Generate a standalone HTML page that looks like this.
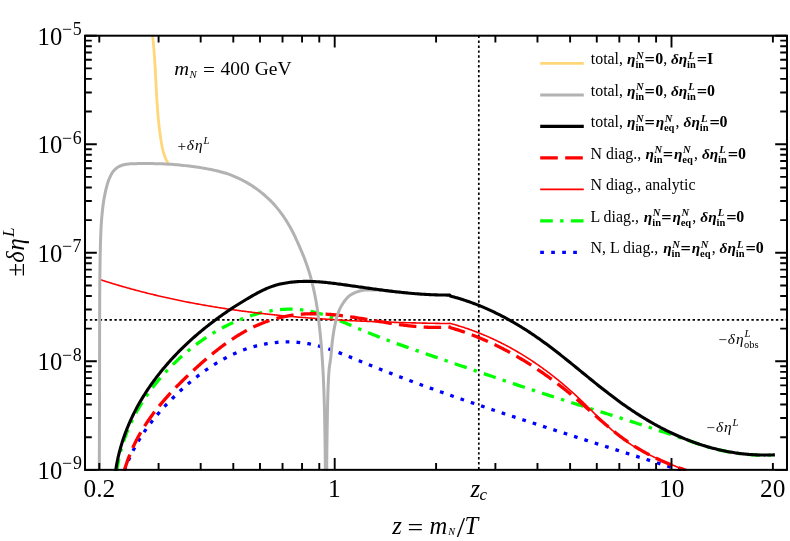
<!DOCTYPE html>
<html><head><meta charset="utf-8"><title>chart</title>
<style>html,body{margin:0;padding:0;background:#fff}body{width:790px;height:541px;overflow:hidden}svg{will-change:transform}</style>
</head><body>
<svg width="790" height="541" viewBox="0 0 790 541" style="display:block;font-family:'Liberation Serif',serif" fill="#000">
<rect width="790" height="541" fill="#fff"/>
<defs><clipPath id="cp"><rect x="85.0" y="35.7" width="702.0" height="435.35"/></clipPath></defs>
<g clip-path="url(#cp)" fill="none" stroke-linejoin="round">
<path d="M85.0 319.8H787.0" stroke="#000" stroke-width="1.7" stroke-dasharray="2.4 2.5"/>
<path d="M478.8 35.7V469.85" stroke="#000" stroke-width="1.7" stroke-dasharray="2.4 2.5"/>
<path d="M124.46 470.79L125.18 468.75L125.93 466.73L126.70 464.73L127.50 462.74L128.32 460.77L129.17 458.82L130.04 456.88L130.94 454.96L131.85 453.06L132.79 451.17L133.76 449.30L134.74 447.44L135.75 445.59L136.78 443.77L137.83 441.95L138.90 440.15L139.99 438.37L141.11 436.59L142.24 434.83L143.40 433.09L144.57 431.36L145.77 429.64L146.98 427.93L148.21 426.23L149.46 424.55L150.73 422.88L152.02 421.22L153.33 419.57L154.65 417.93L156.00 416.30L157.35 414.68L158.73 413.08L160.12 411.48L161.53 409.89L162.96 408.31L164.40 406.75L165.85 405.19L167.33 403.63L168.81 402.09L170.31 400.56L171.83 399.03L173.36 397.51L174.90 396.00L176.46 394.50L178.03 393.00L179.61 391.52L181.21 390.04L182.82 388.58L184.45 387.12L186.08 385.68L187.73 384.25L189.40 382.83L191.07 381.43L192.76 380.04L194.46 378.67L196.17 377.31L197.90 375.96L199.63 374.64L201.38 373.33L203.14 372.04L204.91 370.77L206.70 369.52L208.49 368.28L210.30 367.07L212.11 365.88L213.94 364.71L215.78 363.57L217.63 362.44L219.49 361.34L221.36 360.27L223.24 359.22L225.13 358.20L227.03 357.20L228.94 356.23L230.86 355.29L232.79 354.37L234.73 353.49L236.68 352.63L238.64 351.80L240.60 351.01L242.58 350.24L244.57 349.51L246.56 348.81L248.56 348.15L250.57 347.51L252.59 346.91L254.62 346.35L256.65 345.81L258.69 345.31L260.73 344.85L262.78 344.42L264.84 344.02L266.90 343.65L268.96 343.32L271.03 343.03L273.10 342.77L275.17 342.54L277.25 342.35L279.33 342.19L281.41 342.07L283.49 341.98L285.57 341.93L287.65 341.91L289.73 341.93L291.82 341.99L293.90 342.08L295.98 342.21L298.06 342.37L300.13 342.57L302.20 342.81L304.28 343.08L306.34 343.39L308.41 343.74L310.47 344.12L312.52 344.54L314.57 345.00L316.62 345.48L318.66 346.01L320.70 346.56L322.73 347.14L324.76 347.75L326.79 348.38L328.81 349.04L330.83 349.72L332.85 350.43L334.87 351.15L336.88 351.89L338.89 352.64L340.90 353.41L342.91 354.19L344.92 354.98L346.92 355.78L348.92 356.59L350.93 357.40L352.93 358.22L354.93 359.04L356.93 359.86L358.93 360.68L360.93 361.50L362.93 362.32L364.92 363.13L366.92 363.94L368.92 364.75L370.92 365.55L372.92 366.35L374.92 367.15L376.92 367.94L378.92 368.73L380.92 369.52L382.92 370.30L384.92 371.08L386.92 371.86L388.92 372.64L390.92 373.41L392.92 374.18L394.92 374.95L396.92 375.72L398.92 376.48L400.92 377.24L402.92 378.00L404.92 378.75L406.92 379.50L408.92 380.25L410.92 381.00L412.92 381.75L414.93 382.49L416.93 383.23L418.93 383.97L420.93 384.70L422.93 385.44L424.94 386.17L426.94 386.90L428.94 387.63L430.94 388.35L432.95 389.07L434.95 389.79L436.95 390.51L438.96 391.23L440.96 391.94L442.97 392.66L444.97 393.37L446.98 394.08L448.98 394.78L450.99 395.49L453.00 396.19L455.00 396.90L457.01 397.60L459.02 398.30L461.02 398.99L463.03 399.69L465.04 400.38L467.05 401.07L469.06 401.76L471.07 402.45L473.08 403.14L475.09 403.83L477.10 404.51L479.11 405.20L481.12 405.88L483.14 406.56L485.15 407.24L487.16 407.92L489.17 408.60L491.19 409.28L493.20 409.95L495.22 410.63L497.23 411.30L499.25 411.97L501.27 412.64L503.28 413.31L505.30 413.98L507.32 414.65L509.34 415.32L511.36 415.99L513.38 416.65L515.40 417.32L517.42 417.98L519.44 418.65L521.46 419.31L523.48 419.98L525.51 420.64L527.53 421.30L529.56 421.96L531.58 422.62L533.61 423.28L535.63 423.94L537.66 424.60L539.69 425.26L541.72 425.92L543.75 426.58L545.78 427.24L547.81 427.90L549.84 428.55L551.87 429.21L553.90 429.87L555.93 430.52L557.96 431.18L560.00 431.84L562.03 432.49L564.06 433.15L566.10 433.80L568.13 434.46L570.17 435.11L572.20 435.76L574.24 436.42L576.27 437.07L578.31 437.72L580.34 438.38L582.38 439.03L584.42 439.68L586.45 440.33L588.49 440.99L590.53 441.64L592.56 442.29L594.60 442.94L596.64 443.59L598.67 444.24L600.71 444.89L602.75 445.54L604.78 446.19L606.82 446.84L608.85 447.49L610.89 448.14L612.93 448.79L614.96 449.44L617.00 450.08L619.04 450.73L621.07 451.38L623.11 452.03L625.14 452.68L627.18 453.32L629.21 453.97L631.24 454.62L633.28 455.27L635.31 455.91L637.34 456.56L639.38 457.21L641.41 457.85L643.44 458.50L645.47 459.15L647.50 459.79L649.53 460.44L651.56 461.08L653.59 461.73L655.62 462.38L657.65 463.02L659.68 463.67L661.70 464.31L663.73 464.96L665.75 465.60L667.78 466.25L669.80 466.89L671.83 467.54L673.85 468.18L675.87 468.83L677.89 469.47L679.91 470.12L681.93 470.76L683.95 471.41" stroke="#00F" stroke-width="3.3" stroke-dasharray="3.7 7.17"/>
<path d="M116.63 471.32L116.99 468.93L117.37 466.57L117.79 464.22L118.23 461.89L118.71 459.57L119.21 457.27L119.74 454.99L120.31 452.72L120.90 450.47L121.52 448.23L122.17 446.01L122.85 443.80L123.55 441.61L124.28 439.44L125.04 437.28L125.83 435.14L126.64 433.01L127.48 430.89L128.35 428.79L129.24 426.71L130.16 424.64L131.11 422.58L132.08 420.54L133.07 418.52L134.09 416.51L135.14 414.51L136.21 412.53L137.30 410.56L138.42 408.61L139.56 406.67L140.72 404.74L141.91 402.83L143.12 400.93L144.35 399.05L145.60 397.18L146.88 395.32L148.18 393.48L149.50 391.65L150.84 389.83L152.21 388.03L153.59 386.24L155.00 384.47L156.42 382.70L157.87 380.95L159.33 379.22L160.82 377.49L162.32 375.78L163.85 374.08L165.39 372.40L166.95 370.72L168.53 369.06L170.13 367.42L171.75 365.78L173.38 364.16L175.03 362.56L176.70 360.97L178.39 359.39L180.09 357.83L181.81 356.29L183.55 354.76L185.30 353.25L187.07 351.76L188.86 350.28L190.66 348.83L192.48 347.39L194.31 345.97L196.16 344.57L198.02 343.19L199.89 341.83L201.79 340.49L203.69 339.17L205.61 337.87L207.54 336.60L209.49 335.35L211.45 334.12L213.42 332.91L215.41 331.73L217.41 330.57L219.42 329.43L221.45 328.32L223.48 327.24L225.53 326.18L227.59 325.15L229.66 324.14L231.75 323.16L233.84 322.21L235.94 321.29L238.06 320.39L240.19 319.53L242.32 318.69L244.47 317.88L246.62 317.10L248.79 316.36L250.96 315.64L253.14 314.96L255.33 314.32L257.52 313.70L259.72 313.13L261.93 312.59L264.14 312.08L266.35 311.61L268.57 311.18L270.79 310.79L273.02 310.44L275.25 310.13L277.48 309.87L279.71 309.64L281.94 309.46L284.17 309.32L286.41 309.22L288.64 309.17L290.87 309.17L293.10 309.21L295.33 309.30L297.55 309.44L299.77 309.63L301.99 309.86L304.20 310.15L306.41 310.49L308.62 310.88L310.81 311.32L313.01 311.81L315.20 312.34L317.38 312.91L319.56 313.52L321.74 314.17L323.91 314.86L326.08 315.57L328.25 316.32L330.41 317.09L332.57 317.89L334.73 318.71L336.88 319.55L339.04 320.41L341.19 321.29L343.34 322.17L345.48 323.07L347.63 323.97L349.77 324.88L351.91 325.80L354.06 326.71L356.20 327.62L358.34 328.53L360.48 329.43L362.62 330.32L364.76 331.21L366.90 332.08L369.04 332.95L371.18 333.81L373.32 334.66L375.46 335.50L377.60 336.34L379.74 337.17L381.88 337.99L384.03 338.80L386.17 339.61L388.31 340.42L390.45 341.22L392.59 342.01L394.73 342.80L396.88 343.58L399.02 344.36L401.16 345.13L403.30 345.90L405.45 346.66L407.59 347.42L409.74 348.18L411.88 348.93L414.03 349.69L416.17 350.43L418.32 351.18L420.47 351.92L422.61 352.67L424.76 353.41L426.91 354.14L429.06 354.88L431.21 355.62L433.36 356.35L435.51 357.09L437.66 357.82L439.81 358.56L441.97 359.29L444.12 360.03L446.27 360.77L448.43 361.50L450.59 362.24L452.74 362.98L454.90 363.72L457.06 364.46L459.22 365.20L461.38 365.94L463.54 366.68L465.70 367.42L467.86 368.16L470.02 368.90L472.19 369.64L474.35 370.38L476.51 371.12L478.68 371.87L480.84 372.61L483.01 373.35L485.18 374.09L487.34 374.83L489.51 375.56L491.68 376.30L493.85 377.04L496.02 377.78L498.19 378.51L500.36 379.25L502.53 379.99L504.70 380.72L506.87 381.45L509.04 382.18L511.21 382.91L513.39 383.64L515.56 384.37L517.73 385.10L519.91 385.82L522.08 386.55L524.26 387.27L526.43 387.99L528.61 388.71L530.78 389.43L532.96 390.14L535.13 390.86L537.31 391.57L539.49 392.28L541.66 392.99L543.84 393.70L546.02 394.40L548.19 395.11L550.37 395.81L552.55 396.51L554.73 397.21L556.91 397.91L559.08 398.60L561.26 399.30L563.44 400.00L565.62 400.69L567.80 401.38L569.98 402.07L572.16 402.77L574.33 403.46L576.51 404.15L578.69 404.84L580.87 405.53L583.05 406.22L585.23 406.90L587.41 407.59L589.59 408.28L591.77 408.97L593.95 409.66L596.12 410.34L598.30 411.03L600.48 411.72L602.66 412.41L604.84 413.09L607.02 413.78L609.20 414.47L611.37 415.16L613.55 415.85L615.73 416.54L617.91 417.23L620.08 417.93L622.26 418.62L624.44 419.31L626.61 420.01L628.79 420.70L630.97 421.40L633.14 422.10L635.32 422.80L637.49 423.50L639.67 424.20L641.84 424.90L644.02 425.61L646.19 426.31L648.36 427.02L650.54 427.73L652.71 428.44L654.88 429.16L657.05 429.87L659.22 430.59L661.39 431.31L663.56 432.03L665.73 432.75L667.90 433.48L670.07 434.21L672.24 434.94L674.41 435.67L676.58 436.40L678.74 437.14L680.91 437.88L683.08 438.63L685.24 439.37L687.41 440.12L689.57 440.87L691.73 441.63L693.90 442.39L696.40 443.28L697.56 443.68L698.72 444.07L699.88 444.46L701.04 444.84L702.21 445.21L703.37 445.58L704.54 445.94L705.72 446.30L706.89 446.65L708.07 446.99L709.25 447.33L710.43 447.66L711.61 447.98L712.80 448.30L713.98 448.61L715.17 448.91L716.37 449.21L717.56 449.50L718.76 449.78L719.96 450.06L721.16 450.33L722.36 450.59L723.56 450.85L724.77 451.09L725.98 451.34L727.19 451.57L728.41 451.80L729.63 452.02L730.84 452.24L732.07 452.44L733.29 452.64L734.51 452.83L735.74 453.02L736.97 453.20L738.20 453.37L739.44 453.53L740.67 453.69L741.91 453.83L743.15 453.98L744.40 454.11L745.64 454.23L746.89 454.35L748.14 454.46L749.39 454.56L750.65 454.66L751.90 454.75L753.16 454.83L754.42 454.90L755.69 454.96L756.95 455.01L758.22 455.06L759.49 455.10L760.76 455.13L762.04 455.16L763.31 455.17L764.59 455.18L765.87 455.17L767.16 455.16L768.44 455.15L769.73 455.12L771.02 455.08L772.31 455.04L773.61 454.99L774.90 454.93" stroke="#0F0" stroke-width="3.3" stroke-dasharray="12.6 7.35 3.4 7.35"/>
<path d="M99.28 279.34L100.42 279.72L101.55 280.08L102.69 280.45L103.83 280.81L104.97 281.18L106.11 281.54L107.24 281.89L108.38 282.25L109.52 282.60L110.66 282.96L111.80 283.31L112.95 283.65L114.09 284.00L115.23 284.34L116.37 284.68L117.51 285.02L118.66 285.36L119.80 285.70L120.94 286.03L122.09 286.36L123.23 286.69L124.38 287.02L125.52 287.34L126.67 287.67L127.81 287.99L128.96 288.31L130.10 288.63L131.25 288.94L132.40 289.25L133.55 289.57L134.69 289.88L135.84 290.18L136.99 290.49L138.14 290.79L139.29 291.10L140.44 291.40L141.59 291.69L142.74 291.99L143.89 292.29L145.04 292.58L146.19 292.87L147.35 293.16L148.50 293.44L149.65 293.73L150.80 294.01L151.96 294.29L153.11 294.57L154.27 294.85L155.42 295.13L156.57 295.40L157.73 295.67L158.88 295.94L160.04 296.21L161.20 296.48L162.35 296.75L163.51 297.01L164.67 297.27L165.82 297.53L166.98 297.79L168.14 298.04L169.30 298.30L170.45 298.55L171.61 298.80L172.77 299.05L173.93 299.30L175.09 299.55L176.25 299.79L177.41 300.03L178.57 300.27L179.73 300.51L180.89 300.75L182.05 300.99L183.22 301.22L184.38 301.45L185.54 301.68L186.70 301.91L187.87 302.14L189.03 302.37L190.19 302.59L191.36 302.81L192.52 303.03L193.68 303.25L194.85 303.47L196.01 303.69L197.18 303.90L198.34 304.12L199.51 304.33L200.68 304.54L201.84 304.74L203.01 304.95L204.17 305.16L205.34 305.36L206.51 305.56L207.68 305.76L208.84 305.96L210.01 306.16L211.18 306.36L212.35 306.55L213.52 306.74L214.68 306.93L215.85 307.12L217.02 307.31L218.19 307.50L219.36 307.68L220.53 307.87L221.70 308.05L222.87 308.23L224.04 308.41L225.21 308.59L226.39 308.77L227.56 308.94L228.73 309.12L229.90 309.29L231.07 309.46L232.24 309.63L233.42 309.80L234.59 309.96L235.76 310.13L236.94 310.29L238.11 310.46L239.28 310.62L240.46 310.78L241.63 310.94L242.80 311.09L243.98 311.25L245.15 311.40L246.33 311.56L247.50 311.71L248.68 311.86L249.85 312.01L251.03 312.16L252.20 312.30L253.38 312.45L254.56 312.59L255.73 312.74L256.91 312.88L258.09 313.02L259.26 313.16L260.44 313.30L261.62 313.43L262.79 313.57L263.97 313.70L265.15 313.83L266.33 313.97L267.50 314.10L268.68 314.23L269.86 314.35L271.04 314.48L272.22 314.61L273.40 314.73L274.58 314.85L275.75 314.98L276.93 315.10L278.11 315.22L279.29 315.33L280.47 315.45L281.65 315.57L282.83 315.68L284.01 315.80L285.19 315.91L286.37 316.02L287.55 316.13L288.73 316.24L289.91 316.35L291.09 316.46L292.28 316.57L293.46 316.67L294.64 316.77L295.82 316.88L297.00 316.98L298.18 317.08L299.36 317.18L300.55 317.28L301.73 317.38L302.91 317.47L304.09 317.57L305.27 317.66L306.46 317.76L307.64 317.85L308.82 317.94L310.00 318.03L311.19 318.12L312.37 318.21L313.55 318.30L314.74 318.39L315.92 318.47L317.10 318.56L318.29 318.64L319.47 318.73L320.65 318.81L321.84 318.89L323.02 318.97L324.20 319.05L325.39 319.13L326.57 319.21L327.76 319.28L328.94 319.36L330.12 319.43L331.31 319.51L332.49 319.58L333.68 319.65L334.86 319.72L336.05 319.79L337.23 319.86L338.42 319.93L339.60 320.00L340.78 320.07L341.97 320.14L343.15 320.20L344.34 320.27L345.52 320.33L346.71 320.39L347.89 320.46L349.08 320.52L350.26 320.58L351.45 320.64L352.63 320.70L353.82 320.76L355.01 320.81L356.19 320.87L357.38 320.93L358.56 320.98L359.75 321.04L360.93 321.09L362.12 321.15L363.30 321.20L364.49 321.25L365.67 321.30L366.86 321.35L368.05 321.40L369.23 321.45L370.42 321.50L371.60 321.55L372.79 321.60L373.97 321.64L375.16 321.69L376.34 321.74L377.53 321.78L378.72 321.83L379.90 321.87L381.09 321.91L382.27 321.95L383.46 322.00L384.64 322.04L385.83 322.08L387.02 322.12L388.20 322.16L389.39 322.20L390.57 322.24L391.76 322.27L392.94 322.31L394.13 322.35L395.31 322.38L396.50 322.42L397.69 322.45L398.87 322.49L400.06 322.52L401.24 322.56L402.43 322.59L403.61 322.62L404.80 322.65L405.98 322.69L407.17 322.72L408.35 322.75L409.54 322.78L410.72 322.81L411.91 322.84L413.09 322.87L414.28 322.90L415.46 322.92L416.65 322.95L417.83 322.98L419.02 323.00L420.20 323.03L421.39 323.06L422.57 323.08L423.75 323.11L424.94 323.13L426.12 323.16L427.31 323.18L428.49 323.21L429.68 323.23L430.86 323.25L432.04 323.27L433.23 323.30L434.41 323.32L435.60 323.34L436.78 323.36L437.96 323.38L439.15 323.40L440.33 323.43L441.51 323.45L442.70 323.47L443.88 323.49L445.06 323.50L446.24 323.52L447.43 323.54L448.61 323.56L449.80 323.20L450.56 323.52L451.48 323.77L452.40 324.02L453.32 324.28L454.24 324.54L455.16 324.80L456.07 325.07L456.99 325.34L457.90 325.61L458.81 325.89L459.72 326.16L460.63 326.45L461.54 326.73L462.44 327.02L463.35 327.31L464.25 327.61L465.15 327.91L466.05 328.21L466.95 328.51L467.85 328.82L468.74 329.13L469.64 329.45L470.53 329.76L471.42 330.08L472.31 330.41L473.20 330.73L474.09 331.06L474.97 331.40L475.86 331.73L476.74 332.07L477.62 332.41L478.50 332.76L479.38 333.11L480.26 333.46L481.13 333.81L482.01 334.17L482.88 334.53L483.75 334.89L484.62 335.26L485.49 335.63L486.36 336.00L487.22 336.37L488.09 336.75L488.95 337.13L489.81 337.52L490.67 337.90L491.53 338.29L492.39 338.68L493.24 339.08L494.10 339.48L494.95 339.88L495.80 340.28L496.65 340.69L497.50 341.10L498.34 341.51L499.19 341.92L500.03 342.34L500.87 342.76L501.72 343.19L502.55 343.61L503.39 344.04L504.23 344.47L505.06 344.91L505.90 345.34L506.73 345.78L507.56 346.22L508.39 346.67L509.22 347.12L510.04 347.57L510.87 348.02L511.69 348.48L512.51 348.93L513.33 349.39L514.15 349.86L514.97 350.32L515.78 350.79L516.60 351.26L517.41 351.74L518.22 352.21L519.03 352.69L519.84 353.17L520.64 353.66L521.45 354.14L522.25 354.63L523.06 355.12L523.86 355.62L524.66 356.11L525.45 356.61L526.25 357.11L527.04 357.61L527.84 358.12L528.63 358.63L529.42 359.14L530.21 359.65L531.00 360.17L531.78 360.69L532.57 361.21L533.35 361.73L534.13 362.25L534.91 362.78L535.69 363.31L536.46 363.84L537.24 364.38L538.01 364.91L538.78 365.45L539.55 365.99L540.32 366.54L541.09 367.08L541.86 367.63L542.62 368.18L543.38 368.73L544.15 369.28L544.91 369.84L545.66 370.40L546.42 370.96L547.18 371.52L547.93 372.09L548.68 372.66L549.43 373.23L550.18 373.80L550.93 374.37L551.67 374.95L552.42 375.52L553.16 376.10L553.90 376.69L554.64 377.27L555.38 377.86L556.12 378.44L556.85 379.03L557.59 379.63L558.32 380.22L559.05 380.82L559.78 381.41L560.51 382.01L561.23 382.62L561.96 383.22L562.68 383.83L563.40 384.43L564.12 385.04L564.84 385.66L565.56 386.27L566.27 386.88L566.98 387.50L567.70 388.12L568.41 388.74L569.12 389.37L569.82 389.99L570.53 390.62L571.23 391.24L571.93 391.87L572.64 392.51L573.34 393.14L574.03 393.78L574.73 394.41L575.42 395.05L576.12 395.69L576.81 396.34L577.50 396.98L578.19 397.63L578.87 398.27L579.56 398.92L580.24 399.57L580.93 400.23L581.61 400.88L582.29 401.53L582.97 402.19L583.64 402.85L584.32 403.50L584.99 404.16L585.67 404.82L586.34 405.48L587.02 406.14L587.69 406.81L588.36 407.47L589.03 408.13L589.71 408.79L590.38 409.46L591.05 410.12L591.72 410.78L592.39 411.44L593.06 412.11L593.73 412.77L594.40 413.43L595.07 414.09L595.74 414.75L596.42 415.41L597.09 416.07L597.76 416.72L598.43 417.38L599.11 418.04L599.78 418.69L600.46 419.34L601.14 419.99L601.81 420.64L602.49 421.29L603.17 421.94L603.86 422.58L604.54 423.23L605.22 423.87L605.91 424.51L606.60 425.14L607.28 425.78L607.97 426.41L608.67 427.04L609.36 427.67L610.06 428.29L610.76 428.91L611.46 429.53L612.16 430.15L612.86 430.76L613.57 431.37L614.28 431.97L614.99 432.58L615.71 433.18L616.42 433.77L617.14 434.37L617.87 434.95L618.59 435.54L619.32 436.12L620.05 436.70L620.79 437.27L621.53 437.84L622.27 438.40L623.01 438.96L623.76 439.52L624.51 440.07L625.27 440.62L626.03 441.16L626.79 441.70L627.55 442.23L628.32 442.75L629.10 443.28L629.88 443.79L630.66 444.30L631.44 444.81L632.23 445.31L633.02 445.81L633.82 446.30L634.62 446.79L635.42 447.28L636.23 447.76L637.04 448.23L637.85 448.70L638.67 449.17L639.48 449.63L640.30 450.09L641.13 450.55L641.96 451.00L642.79 451.44L643.62 451.89L644.45 452.33L645.29 452.76L646.13 453.20L646.97 453.63L647.82 454.05L648.66 454.47L649.51 454.89L650.36 455.31L651.22 455.72L652.07 456.13L652.93 456.54L653.79 456.94L654.65 457.35L655.51 457.74L656.37 458.14L657.24 458.53L658.11 458.92L658.98 459.31L659.85 459.70L660.72 460.08L661.59 460.46L662.46 460.84L663.34 461.22L664.22 461.59L665.09 461.97L665.97 462.34L666.85 462.71L667.73 463.07L668.61 463.44L669.49 463.80L670.37 464.17L671.25 464.53L672.14 464.89L673.02 465.25L673.90 465.60L674.79 465.96L675.67 466.31L676.55 466.67L677.44 467.02L678.32 467.37L679.21 467.72L680.09 468.07L680.97 468.42L681.86 468.77L682.74 469.12L683.62 469.47L684.50 469.82L685.39 470.16L686.27 470.51" stroke="#F00" stroke-width="1.6"/>
<path d="M124.26 471.05L124.63 469.72L125.02 468.40L125.42 467.08L125.83 465.78L126.25 464.48L126.68 463.18L127.12 461.90L127.57 460.62L128.03 459.35L128.49 458.08L128.97 456.82L129.46 455.57L129.96 454.32L130.46 453.08L130.98 451.85L131.50 450.63L132.04 449.41L132.58 448.19L133.13 446.98L133.70 445.78L134.27 444.59L134.84 443.40L135.43 442.21L136.03 441.04L136.63 439.87L137.24 438.70L137.87 437.54L138.50 436.39L139.13 435.24L139.78 434.09L140.43 432.96L141.09 431.82L141.76 430.70L142.44 429.57L143.13 428.46L143.82 427.35L144.52 426.24L145.23 425.14L145.94 424.04L146.66 422.95L147.39 421.87L148.13 420.78L148.87 419.71L149.62 418.64L150.38 417.57L151.14 416.51L151.91 415.45L152.69 414.39L153.47 413.34L154.26 412.30L155.06 411.26L155.86 410.22L156.67 409.19L157.49 408.16L158.31 407.14L159.14 406.12L159.97 405.10L160.81 404.09L161.65 403.08L162.50 402.07L163.36 401.07L164.22 400.07L165.09 399.08L165.96 398.09L166.84 397.10L167.72 396.12L168.61 395.14L169.50 394.16L170.40 393.19L171.30 392.21L172.20 391.25L173.12 390.28L174.03 389.32L174.95 388.36L175.88 387.40L176.81 386.45L177.74 385.50L178.68 384.55L179.62 383.61L180.57 382.66L181.51 381.72L182.47 380.78L183.43 379.85L184.39 378.91L185.35 377.98L186.32 377.05L187.29 376.13L188.27 375.20L189.24 374.28L190.22 373.36L191.21 372.44L192.20 371.52L193.19 370.60L194.18 369.69L195.18 368.78L196.18 367.87L197.18 366.96L198.18 366.05L199.19 365.15L200.20 364.25L201.21 363.35L202.23 362.46L203.25 361.57L204.27 360.68L205.30 359.79L206.33 358.91L207.36 358.03L208.40 357.16L209.44 356.29L210.48 355.43L211.52 354.57L212.57 353.71L213.62 352.86L214.68 352.02L215.73 351.17L216.80 350.34L217.86 349.51L218.93 348.69L220.00 347.87L221.07 347.05L222.15 346.25L223.23 345.45L224.32 344.65L225.41 343.87L226.50 343.09L227.59 342.31L228.69 341.55L229.80 340.79L230.90 340.04L232.01 339.29L233.13 338.56L234.24 337.83L235.36 337.11L236.49 336.40L237.61 335.70L238.75 335.00L239.88 334.32L241.02 333.64L242.16 332.97L243.31 332.31L244.46 331.66L245.62 331.02L246.77 330.39L247.94 329.77L249.10 329.16L250.27 328.56L251.45 327.98L252.62 327.40L253.81 326.83L254.99 326.27L256.18 325.73L257.37 325.19L258.57 324.67L259.77 324.16L260.98 323.66L262.19 323.17L263.41 322.69L264.62 322.23L265.85 321.78L267.07 321.34L268.30 320.91L269.54 320.50L270.78 320.10L272.02 319.71L273.27 319.34L274.52 318.97L275.77 318.62L277.03 318.28L278.29 317.96L279.56 317.64L280.83 317.34L282.10 317.05L283.37 316.78L284.65 316.51L285.93 316.26L287.21 316.02L288.50 315.79L289.79 315.58L291.08 315.38L292.38 315.18L293.67 315.01L294.97 314.84L296.27 314.68L297.58 314.54L298.88 314.41L300.19 314.29L301.50 314.18L302.81 314.08L304.12 314.00L305.44 313.93L306.76 313.87L308.07 313.82L309.39 313.78L310.71 313.75L312.04 313.74L313.36 313.73L314.68 313.74L316.01 313.75L317.34 313.78L318.66 313.81L319.99 313.85L321.32 313.91L322.65 313.97L323.98 314.04L325.31 314.12L326.64 314.20L327.98 314.30L329.31 314.40L330.64 314.51L331.97 314.62L333.31 314.75L334.64 314.88L335.97 315.01L337.31 315.16L338.64 315.30L339.98 315.46L341.31 315.62L342.64 315.78L343.97 315.95L345.31 316.12L346.64 316.30L347.97 316.48L349.30 316.67L350.63 316.86L351.96 317.05L353.29 317.25L354.62 317.45L355.95 317.65L357.27 317.85L358.60 318.06L359.93 318.27L361.26 318.48L362.58 318.70L363.91 318.91L365.23 319.13L366.56 319.35L367.88 319.57L369.21 319.79L370.53 320.01L371.85 320.23L373.18 320.45L374.50 320.67L375.82 320.89L377.15 321.11L378.47 321.33L379.79 321.55L381.11 321.77L382.43 321.99L383.75 322.21L385.07 322.42L386.39 322.63L387.71 322.84L389.03 323.05L390.35 323.26L391.67 323.46L392.99 323.66L394.31 323.86L395.63 324.06L396.95 324.25L398.27 324.44L399.59 324.62L400.91 324.80L402.23 324.98L403.54 325.15L404.86 325.31L406.18 325.48L407.50 325.63L408.82 325.78L410.14 325.93L411.45 326.07L412.77 326.20L414.09 326.33L415.41 326.46L416.72 326.57L418.04 326.68L419.36 326.78L420.68 326.88L422.00 326.97L423.32 327.05L424.63 327.12L425.95 327.19L427.27 327.24L428.59 327.29L429.91 327.33L431.23 327.37L432.54 327.39L433.86 327.40L435.18 327.41L436.50 327.40L437.82 327.39L439.14 327.36L440.46 327.33L441.78 327.28L443.10 327.23L444.42 327.16L445.74 327.08L447.06 327.00L448.38 326.90L449.80 327.20L450.51 327.72L451.42 327.98L452.32 328.25L453.23 328.52L454.13 328.79L455.03 329.06L455.93 329.34L456.83 329.62L457.73 329.91L458.63 330.19L459.52 330.48L460.41 330.78L461.31 331.07L462.20 331.37L463.08 331.67L463.97 331.98L464.86 332.29L465.74 332.60L466.63 332.91L467.51 333.23L468.39 333.55L469.27 333.87L470.15 334.19L471.03 334.52L471.90 334.85L472.78 335.19L473.65 335.52L474.52 335.86L475.39 336.20L476.26 336.55L477.13 336.90L477.99 337.25L478.86 337.60L479.72 337.96L480.59 338.32L481.45 338.68L482.31 339.04L483.16 339.41L484.02 339.78L484.88 340.15L485.73 340.53L486.58 340.90L487.44 341.28L488.29 341.67L489.14 342.05L489.98 342.44L490.83 342.83L491.68 343.22L492.52 343.62L493.36 344.02L494.20 344.42L495.04 344.82L495.88 345.23L496.72 345.64L497.55 346.05L498.39 346.46L499.22 346.88L500.06 347.29L500.89 347.71L501.72 348.14L502.54 348.56L503.37 348.99L504.20 349.42L505.02 349.85L505.84 350.29L506.67 350.73L507.49 351.17L508.31 351.61L509.12 352.05L509.94 352.50L510.76 352.95L511.57 353.40L512.38 353.85L513.20 354.31L514.01 354.77L514.82 355.23L515.62 355.69L516.43 356.16L517.24 356.62L518.04 357.09L518.84 357.56L519.64 358.04L520.45 358.51L521.24 358.99L522.04 359.47L522.84 359.95L523.63 360.44L524.43 360.92L525.22 361.41L526.01 361.90L526.80 362.40L527.59 362.89L528.38 363.39L529.17 363.89L529.95 364.39L530.74 364.89L531.52 365.39L532.30 365.90L533.08 366.41L533.86 366.92L534.64 367.43L535.42 367.95L536.19 368.47L536.97 368.98L537.74 369.50L538.51 370.03L539.29 370.55L540.06 371.08L540.82 371.60L541.59 372.13L542.36 372.67L543.12 373.20L543.89 373.74L544.65 374.27L545.41 374.81L546.17 375.35L546.93 375.89L547.69 376.44L548.44 376.98L549.20 377.53L549.95 378.08L550.71 378.63L551.46 379.18L552.21 379.74L552.96 380.29L553.71 380.85L554.45 381.41L555.20 381.97L555.95 382.54L556.69 383.10L557.43 383.67L558.17 384.23L558.91 384.80L559.65 385.37L560.39 385.94L561.13 386.52L561.86 387.09L562.60 387.67L563.33 388.25L564.06 388.83L564.79 389.41L565.52 389.99L566.25 390.58L566.98 391.16L567.71 391.75L568.43 392.34L569.16 392.93L569.88 393.52L570.60 394.11L571.32 394.71L572.04 395.30L572.76 395.90L573.48 396.50L574.19 397.09L574.91 397.70L575.62 398.30L576.33 398.90L577.05 399.51L577.76 400.11L578.47 400.72L579.17 401.33L579.88 401.94L580.59 402.55L581.29 403.16L582.00 403.77L582.70 404.38L583.40 405.00L584.11 405.61L584.81 406.23L585.51 406.85L586.21 407.46L586.91 408.08L587.61 408.70L588.31 409.32L589.01 409.93L589.70 410.55L590.40 411.17L591.10 411.79L591.80 412.41L592.50 413.03L593.19 413.64L593.89 414.26L594.59 414.88L595.29 415.50L595.98 416.11L596.68 416.73L597.38 417.35L598.08 417.96L598.78 418.58L599.48 419.19L600.18 419.80L600.88 420.41L601.58 421.02L602.28 421.63L602.98 422.24L603.69 422.85L604.39 423.45L605.10 424.06L605.80 424.66L606.51 425.26L607.22 425.86L607.93 426.46L608.64 427.06L609.35 427.65L610.06 428.25L610.78 428.84L611.49 429.43L612.21 430.01L612.93 430.60L613.65 431.18L614.37 431.76L615.09 432.34L615.81 432.92L616.54 433.49L617.27 434.06L618.00 434.63L618.73 435.19L619.46 435.75L620.20 436.31L620.94 436.87L621.68 437.42L622.42 437.97L623.16 438.52L623.91 439.07L624.66 439.61L625.41 440.15L626.16 440.68L626.92 441.21L627.68 441.74L628.44 442.26L629.20 442.78L629.97 443.30L630.74 443.81L631.51 444.32L632.28 444.83L633.06 445.33L633.84 445.83L634.62 446.32L635.40 446.81L636.19 447.30L636.98 447.78L637.77 448.27L638.56 448.74L639.36 449.22L640.16 449.69L640.96 450.15L641.76 450.62L642.57 451.08L643.38 451.54L644.19 451.99L645.00 452.44L645.81 452.89L646.63 453.33L647.45 453.77L648.27 454.21L649.09 454.64L649.92 455.07L650.75 455.50L651.58 455.92L652.41 456.34L653.24 456.76L654.08 457.18L654.92 457.59L655.76 457.99L656.60 458.40L657.44 458.80L658.29 459.20L659.14 459.60L659.99 459.99L660.84 460.38L661.69 460.77L662.55 461.15L663.41 461.53L664.27 461.91L665.13 462.28L665.99 462.65L666.86 463.02L667.73 463.39L668.60 463.75L669.47 464.11L670.34 464.47L671.22 464.82L672.09 465.17L672.97 465.52L673.85 465.86L674.73 466.21L675.61 466.55L676.50 466.88L677.39 467.22L678.27 467.55L679.16 467.88L680.05 468.20L680.95 468.53L681.84 468.85L682.74 469.17L683.64 469.48L684.54 469.79L685.44 470.10L686.34 470.41" stroke="#F00" stroke-width="3.3" stroke-dasharray="17.45 7.3"/>
<path d="M152.13 32.13L152.18 32.57L152.24 33.01L152.29 33.45L152.35 33.89L152.40 34.33L152.45 34.77L152.50 35.21L152.56 35.65L152.61 36.09L152.66 36.54L152.71 36.98L152.76 37.42L152.80 37.86L152.85 38.30L152.90 38.75L152.95 39.19L152.99 39.63L153.04 40.08L153.09 40.52L153.13 40.96L153.18 41.41L153.22 41.85L153.26 42.30L153.31 42.74L153.35 43.19L153.39 43.63L153.43 44.08L153.47 44.52L153.52 44.97L153.56 45.41L153.60 45.86L153.64 46.30L153.67 46.75L153.71 47.20L153.75 47.64L153.79 48.09L153.83 48.54L153.87 48.98L153.90 49.43L153.94 49.88L153.97 50.33L154.01 50.77L154.05 51.22L154.08 51.67L154.12 52.12L154.15 52.57L154.18 53.01L154.22 53.46L154.25 53.91L154.28 54.36L154.32 54.81L154.35 55.26L154.38 55.71L154.41 56.16L154.44 56.61L154.47 57.06L154.51 57.51L154.54 57.96L154.57 58.41L154.60 58.86L154.63 59.31L154.66 59.76L154.68 60.21L154.71 60.66L154.74 61.11L154.77 61.56L154.80 62.01L154.83 62.46L154.85 62.91L154.88 63.36L154.91 63.81L154.94 64.27L154.96 64.72L154.99 65.17L155.02 65.62L155.04 66.07L155.07 66.53L155.10 66.98L155.12 67.43L155.15 67.88L155.17 68.33L155.20 68.79L155.22 69.24L155.25 69.69L155.27 70.14L155.30 70.60L155.32 71.05L155.35 71.50L155.37 71.96L155.40 72.41L155.42 72.86L155.44 73.31L155.47 73.77L155.49 74.22L155.52 74.67L155.54 75.13L155.56 75.58L155.59 76.03L155.61 76.49L155.64 76.94L155.66 77.40L155.68 77.85L155.71 78.30L155.73 78.76L155.75 79.21L155.78 79.66L155.80 80.12L155.82 80.57L155.85 81.03L155.87 81.48L155.89 81.93L155.92 82.39L155.94 82.84L155.96 83.30L155.99 83.75L156.01 84.21L156.03 84.66L156.06 85.11L156.08 85.57L156.10 86.02L156.13 86.48L156.15 86.93L156.18 87.39L156.20 87.84L156.22 88.29L156.25 88.75L156.27 89.20L156.30 89.66L156.32 90.11L156.35 90.57L156.37 91.02L156.39 91.47L156.42 91.93L156.44 92.38L156.47 92.84L156.50 93.29L156.52 93.75L156.55 94.20L156.57 94.65L156.60 95.11L156.62 95.56L156.65 96.02L156.68 96.47L156.70 96.93L156.73 97.38L156.76 97.83L156.78 98.29L156.81 98.74L156.84 99.20L156.87 99.65L156.90 100.10L156.92 100.56L156.95 101.01L156.98 101.46L157.01 101.92L157.04 102.37L157.07 102.83L157.10 103.28L157.13 103.73L157.16 104.19L157.19 104.64L157.22 105.09L157.25 105.55L157.29 106.00L157.32 106.45L157.35 106.91L157.38 107.36L157.41 107.81L157.45 108.26L157.48 108.72L157.52 109.17L157.55 109.62L157.58 110.08L157.62 110.53L157.65 110.98L157.69 111.43L157.73 111.88L157.76 112.34L157.80 112.79L157.84 113.24L157.87 113.69L157.91 114.14L157.95 114.60L157.99 115.05L158.03 115.50L158.07 115.95L158.11 116.40L158.15 116.85L158.19 117.30L158.23 117.75L158.27 118.21L158.31 118.66L158.36 119.11L158.40 119.56L158.44 120.01L158.49 120.46L158.53 120.91L158.58 121.36L158.62 121.81L158.67 122.26L158.71 122.71L158.76 123.16L158.81 123.61L158.86 124.06L158.90 124.50L158.95 124.95L159.00 125.40L159.05 125.85L159.10 126.30L159.15 126.75L159.21 127.20L159.26 127.64L159.31 128.09L159.36 128.54L159.42 128.99L159.47 129.43L159.53 129.88L159.58 130.33L159.64 130.78L159.70 131.22L159.75 131.67L159.81 132.12L159.87 132.56L159.93 133.01L159.99 133.45L160.05 133.90L160.11 134.35L160.18 134.79L160.24 135.24L160.30 135.68L160.37 136.13L160.43 136.57L160.50 137.02L160.56 137.46L160.63 137.90L160.70 138.35L160.76 138.79L160.83 139.24L160.90 139.68L160.97 140.12L161.04 140.56L161.11 141.01L161.19 141.45L161.26 141.89L161.33 142.33L161.41 142.78L161.48 143.22L161.56 143.66L161.64 144.10L161.72 144.54L161.80 144.98L161.88 145.42L161.96 145.86L162.05 146.29L162.14 146.73L162.22 147.17L162.31 147.60L162.41 148.04L162.50 148.47L162.60 148.90L162.70 149.34L162.80 149.77L162.90 150.20L163.01 150.62L163.12 151.05L163.23 151.48L163.34 151.90L163.46 152.32L163.58 152.74L163.70 153.16L163.83 153.58L163.96 154.00L164.09 154.42L164.23 154.83L164.37 155.24L164.51 155.65L164.66 156.06L164.81 156.47L164.96 156.87L165.12 157.27L165.28 157.67L165.45 158.07L165.62 158.47L165.80 158.86L165.98 159.25L166.16 159.64L166.35 160.03L166.55 160.41L166.74 160.80L166.95 161.18L167.16 161.55L167.37 161.93L167.59 162.30L167.81 162.67L168.04 163.03L168.28 163.40L168.52 163.76L168.76 164.12L169.02 164.47" stroke="#FFD778" stroke-width="2.8"/>
<path d="M99.30 471.00L99.31 469.11L99.31 467.23L99.32 465.34L99.32 463.45L99.33 461.56L99.34 459.68L99.34 457.79L99.35 455.90L99.35 454.02L99.36 452.13L99.36 450.24L99.37 448.36L99.38 446.47L99.38 444.58L99.39 442.69L99.39 440.81L99.40 438.92L99.40 437.03L99.41 435.15L99.41 433.26L99.42 431.37L99.42 429.49L99.43 427.60L99.43 425.71L99.44 423.82L99.44 421.94L99.45 420.05L99.45 418.16L99.46 416.28L99.46 414.39L99.47 412.50L99.47 410.61L99.48 408.73L99.48 406.84L99.49 404.95L99.49 403.07L99.50 401.18L99.50 399.29L99.51 397.41L99.51 395.52L99.51 393.63L99.52 391.74L99.52 389.86L99.53 387.97L99.53 386.08L99.53 384.20L99.54 382.31L99.54 380.42L99.54 378.54L99.54 376.65L99.55 374.76L99.55 372.87L99.55 370.99L99.56 369.10L99.56 367.21L99.56 365.33L99.56 363.44L99.57 361.55L99.57 359.66L99.57 357.78L99.57 355.89L99.58 354.00L99.58 352.12L99.58 350.23L99.59 348.34L99.59 346.46L99.59 344.57L99.59 342.68L99.60 340.79L99.60 338.91L99.60 337.02L99.61 335.13L99.61 333.25L99.61 331.36L99.62 329.47L99.62 327.58L99.63 325.70L99.63 323.81L99.64 321.92L99.64 320.04L99.64 318.15L99.65 316.26L99.65 314.38L99.66 312.49L99.66 310.60L99.67 308.71L99.68 306.83L99.68 304.94L99.69 303.05L99.70 301.17L99.70 299.28L99.71 297.39L99.72 295.51L99.73 293.62L99.74 291.73L99.76 289.84L99.77 287.96L99.79 286.07L99.80 284.18L99.82 282.30L99.84 280.41L99.86 278.52L99.88 276.64L99.90 274.75L99.92 272.86L99.95 270.97L99.97 269.09L100.00 267.20L100.02 265.31L100.05 263.43L100.08 261.54L100.11 259.65L100.14 257.77L100.17 255.88L100.21 253.99L100.25 252.11L100.29 250.22L100.33 248.33L100.38 246.44L100.44 244.56L100.49 242.67L100.55 240.78L100.61 238.90L100.68 237.01L100.75 235.13L100.82 233.24L100.90 231.36L100.98 229.47L101.07 227.59L101.17 225.71L101.29 223.82L101.42 221.94L101.56 220.05L101.71 218.17L101.88 216.29L102.06 214.41L102.25 212.53L102.44 210.65L102.65 208.78L102.86 206.91L103.09 205.04L103.35 203.17L103.63 201.30L103.93 199.43L104.26 197.56L104.61 195.70L104.98 193.85L105.38 192.00L105.79 190.16L106.22 188.33L106.68 186.51L107.18 184.68L107.74 182.86L108.35 181.06L109.02 179.29L109.74 177.57L110.53 175.87L111.43 174.15L112.45 172.49L113.56 170.97L114.76 169.64L116.17 168.39L117.75 167.23L119.43 166.25L121.14 165.56L122.90 165.03L124.75 164.57L126.64 164.20L128.53 163.96L130.41 163.85L132.29 163.77L134.17 163.70L136.06 163.65L137.96 163.61L139.85 163.60L141.73 163.60L143.62 163.60L145.51 163.60L147.40 163.60L149.28 163.60L151.17 163.60L153.06 163.61L154.94 163.63L156.83 163.67L158.72 163.73L160.60 163.80L162.49 163.87L164.38 163.96L166.26 164.05L168.15 164.14L170.03 164.24L171.91 164.35L173.79 164.49L175.67 164.64L177.55 164.81L179.43 165.00L181.31 165.19L183.19 165.40L185.06 165.62L186.94 165.84L188.81 166.07L190.69 166.30L192.56 166.53L194.43 166.78L196.30 167.03L198.17 167.30L200.04 167.59L201.90 167.88L203.76 168.19L205.62 168.52L207.48 168.86L209.33 169.21L211.18 169.57L213.03 169.96L214.88 170.36L216.72 170.79L218.56 171.23L220.40 171.70L222.22 172.19L224.04 172.70L225.84 173.24L227.62 173.80L229.40 174.42L231.17 175.08L232.92 175.79L234.67 176.54L236.40 177.31L238.11 178.10L239.82 178.91L241.50 179.74L243.18 180.60L244.85 181.50L246.50 182.43L248.13 183.38L249.75 184.36L251.34 185.35L252.92 186.38L254.49 187.43L256.05 188.51L257.58 189.62L259.10 190.75L260.59 191.91L262.06 193.08L263.51 194.28L264.94 195.51L266.36 196.76L267.76 198.04L269.14 199.34L270.49 200.67L271.81 202.02L273.10 203.38L274.36 204.77L275.60 206.19L276.81 207.63L278.01 209.10L279.19 210.59L280.34 212.09L281.47 213.62L282.57 215.15L283.65 216.70L284.70 218.25L285.73 219.83L286.74 221.42L287.72 223.03L288.69 224.66L289.64 226.30L290.56 227.95L291.47 229.61L292.36 231.28L293.22 232.95L294.07 234.63L294.89 236.33L295.68 238.04L296.46 239.76L297.23 241.49L297.99 243.22L298.74 244.95L299.49 246.68L300.24 248.41L301.00 250.14L301.75 251.88L302.49 253.62L303.21 255.36L303.92 257.11L304.60 258.87L305.26 260.63L305.90 262.40L306.54 264.18L307.16 265.97L307.76 267.76L308.36 269.55L308.93 271.35L309.49 273.15L310.03 274.96L310.55 276.77L311.05 278.59L311.53 280.41L312.00 282.24L312.45 284.08L312.89 285.91L313.31 287.76L313.71 289.60L314.11 291.44L314.49 293.29L314.87 295.14L315.24 296.99L315.59 298.85L315.94 300.70L316.27 302.56L316.58 304.42L316.88 306.28L317.17 308.15L317.43 310.01L317.69 311.88L317.93 313.75L318.16 315.63L318.39 317.50L318.61 319.38L318.82 321.25L319.04 323.13L319.24 325.00L319.45 326.88L319.66 328.76L319.87 330.63L320.07 332.51L320.26 334.39L320.45 336.26L320.64 338.14L320.82 340.02L320.99 341.90L321.15 343.78L321.30 345.66L321.45 347.54L321.60 349.42L321.74 351.30L321.88 353.19L322.01 355.07L322.14 356.95L322.26 358.83L322.38 360.72L322.50 362.60L322.62 364.48L322.74 366.37L322.85 368.25L322.96 370.14L323.07 372.02L323.17 373.90L323.27 375.79L323.36 377.67L323.44 379.56L323.52 381.44L323.60 383.33L323.67 385.21L323.74 387.10L323.82 388.98L323.89 390.87L323.95 392.76L324.02 394.64L324.09 396.53L324.15 398.42L324.21 400.30L324.27 402.19L324.33 404.07L324.38 405.96L324.43 407.85L324.48 409.73L324.53 411.62L324.57 413.51L324.61 415.39L324.65 417.28L324.69 419.17L324.72 421.05L324.75 422.94L324.78 424.83L324.81 426.71L324.85 428.60L324.88 430.49L324.91 432.37L324.94 434.26L324.97 436.15L325.00 438.03L325.02 439.92L325.05 441.81L325.08 443.69L325.10 445.58L325.13 447.47L325.15 449.35L325.17 451.24L325.19 453.13L325.21 455.02L325.23 456.90L325.24 458.79L325.26 460.68L325.27 462.56L325.28 464.45L325.29 466.34L325.29 468.23L325.30 470.11L325.30 472.00" stroke="#B2B2B2" stroke-width="3.0"/>
<path d="M326.70 472.00L326.70 471.44L326.70 470.88L326.71 470.32L326.71 469.76L326.71 469.20L326.71 468.64L326.72 468.08L326.72 467.52L326.72 466.96L326.72 466.40L326.73 465.84L326.73 465.28L326.73 464.72L326.74 464.16L326.74 463.60L326.75 463.04L326.75 462.48L326.75 461.92L326.76 461.36L326.76 460.80L326.77 460.24L326.77 459.68L326.78 459.12L326.78 458.56L326.79 458.00L326.79 457.44L326.80 456.88L326.80 456.32L326.81 455.76L326.81 455.20L326.82 454.64L326.82 454.08L326.83 453.52L326.83 452.96L326.84 452.40L326.85 451.84L326.85 451.28L326.86 450.72L326.86 450.16L326.87 449.60L326.88 449.04L326.88 448.48L326.89 447.92L326.90 447.36L326.90 446.80L326.91 446.24L326.92 445.68L326.92 445.12L326.93 444.56L326.94 444.00L326.95 443.44L326.95 442.88L326.96 442.32L326.97 441.76L326.98 441.20L326.98 440.64L326.99 440.08L327.00 439.52L327.01 438.96L327.02 438.40L327.02 437.84L327.03 437.28L327.04 436.73L327.05 436.17L327.06 435.61L327.06 435.05L327.07 434.49L327.08 433.93L327.09 433.37L327.10 432.81L327.11 432.25L327.11 431.69L327.12 431.13L327.13 430.57L327.14 430.01L327.15 429.45L327.16 428.89L327.17 428.33L327.18 427.77L327.18 427.21L327.19 426.65L327.20 426.09L327.21 425.53L327.22 424.97L327.23 424.41L327.24 423.85L327.25 423.29L327.26 422.73L327.26 422.17L327.27 421.61L327.28 421.05L327.29 420.49L327.30 419.93L327.31 419.37L327.32 418.81L327.33 418.25L327.34 417.69L327.35 417.13L327.36 416.57L327.37 416.01L327.38 415.45L327.39 414.89L327.40 414.33L327.41 413.77L327.42 413.21L327.43 412.65L327.44 412.09L327.45 411.53L327.46 410.97L327.48 410.41L327.49 409.85L327.50 409.29L327.51 408.73L327.52 408.17L327.54 407.61L327.55 407.05L327.56 406.49L327.57 405.93L327.59 405.37L327.60 404.81L327.61 404.25L327.63 403.69L327.64 403.13L327.65 402.57L327.67 402.01L327.68 401.45L327.70 400.89L327.71 400.33L327.73 399.77L327.74 399.22L327.76 398.66L327.77 398.10L327.79 397.54L327.80 396.98L327.82 396.42L327.84 395.86L327.85 395.30L327.87 394.74L327.89 394.18L327.90 393.62L327.92 393.06L327.94 392.50L327.96 391.94L327.98 391.38L327.99 390.82L328.01 390.26L328.03 389.70L328.05 389.14L328.07 388.58L328.09 388.02L328.11 387.46L328.13 386.90L328.15 386.34L328.17 385.78L328.19 385.23L328.21 384.67L328.23 384.11L328.26 383.55L328.28 382.99L328.31 382.43L328.33 381.87L328.36 381.31L328.38 380.75L328.41 380.19L328.44 379.63L328.47 379.07L328.50 378.51L328.53 377.95L328.56 377.39L328.60 376.83L328.63 376.27L328.67 375.71L328.70 375.16L328.74 374.60L328.78 374.04L328.82 373.48L328.86 372.92L328.90 372.36L328.94 371.80L328.98 371.25L329.03 370.69L329.07 370.13L329.12 369.58L329.17 369.02L329.23 368.46L329.29 367.91L329.36 367.35L329.43 366.80L329.50 366.24L329.58 365.69L329.66 365.13L329.74 364.58L329.82 364.02L329.91 363.47L329.99 362.92L330.08 362.36L330.17 361.81L330.25 361.25L330.34 360.70L330.42 360.15L330.50 359.59L330.58 359.04L330.66 358.48L330.73 357.93L330.80 357.37L330.87 356.82L330.93 356.26L330.98 355.70L331.04 355.15L331.09 354.59L331.14 354.03L331.19 353.47L331.24 352.92L331.29 352.36L331.34 351.80L331.38 351.24L331.43 350.68L331.47 350.12L331.52 349.57L331.56 349.01L331.61 348.45L331.66 347.89L331.70 347.33L331.75 346.77L331.80 346.22L331.85 345.66L331.90 345.10L331.96 344.54L332.02 343.99L332.07 343.43L332.14 342.88L332.20 342.32L332.26 341.76L332.33 341.21L332.40 340.65L332.47 340.10L332.54 339.54L332.61 338.98L332.69 338.43L332.76 337.87L332.84 337.32L332.92 336.76L333.00 336.21L333.08 335.65L333.16 335.10L333.24 334.55L333.33 333.99L333.41 333.44L333.50 332.89L333.59 332.33L333.68 331.78L333.77 331.23L333.87 330.68L333.96 330.13L334.06 329.58L334.15 329.02L334.25 328.47L334.36 327.92L334.46 327.37L334.57 326.82L334.67 326.27L334.79 325.72L334.90 325.17L335.01 324.62L335.13 324.07L335.25 323.53L335.37 322.98L335.50 322.43L335.63 321.89L335.76 321.34L335.89 320.80L336.02 320.25L336.16 319.71L336.30 319.17L336.44 318.63L336.59 318.10L336.74 317.56L336.90 317.02L337.05 316.48L337.22 315.94L337.38 315.40L337.55 314.86L337.73 314.32L337.91 313.79L338.09 313.26L338.28 312.73L338.48 312.20L338.67 311.68L338.88 311.16L339.09 310.65L339.30 310.14L339.52 309.63L339.75 309.12L339.98 308.62L340.22 308.11L340.48 307.61L340.74 307.11L341.00 306.61L341.28 306.12L341.56 305.63L341.84 305.14L342.13 304.65L342.43 304.17L342.73 303.69L343.04 303.22L343.35 302.75L343.67 302.29L343.99 301.84L344.31 301.39L344.64 300.94L344.98 300.50L345.32 300.06L345.67 299.61L346.03 299.17L346.40 298.73L346.78 298.30L347.16 297.88L347.56 297.46L347.96 297.06L348.36 296.67L348.78 296.30L349.20 295.95L349.63 295.62L350.07 295.31L350.52 295.01L350.98 294.71L351.45 294.41L351.94 294.13L352.43 293.85L352.94 293.58L353.45 293.31L353.96 293.06L354.48 292.82L355.01 292.59L355.53 292.38L356.06 292.18L356.59 291.99L357.12 291.82L357.64 291.66L358.17 291.50L358.71 291.35L359.24 291.19L359.79 291.04L360.33 290.89L360.88 290.75L361.43 290.62L361.99 290.49L362.54 290.37L363.10 290.27L363.66 290.18L364.21 290.11L364.77 290.05L365.33 290.02L365.88 290.00L366.44 290.00L367.00 290.00L367.55 290.00L368.11 290.00L368.67 290.00L369.23 290.00L369.79 290.00L370.35 290.00L370.92 290.00L371.48 290.00L372.04 290.00L372.60 290.00L373.16 290.00L373.72 290.00L374.28 290.00L374.84 290.00L375.40 290.00L375.96 290.01L376.52 290.02L377.08 290.04L377.63 290.06L378.19 290.08L378.75 290.11L379.31 290.15L379.87 290.18L380.42 290.23L380.98 290.27L381.54 290.32L382.10 290.38L382.65 290.43L383.21 290.49L383.77 290.56L384.33 290.62L384.88 290.69L385.44 290.76L386.00 290.84L386.55 290.92L387.11 291.00L387.67 291.08L388.22 291.16L388.78 291.24L389.33 291.33L389.89 291.42L390.44 291.51L391.00 291.60" stroke="#B2B2B2" stroke-width="3.0"/>
<path d="M115.59 471.10L115.81 469.64L116.04 468.18L116.28 466.73L116.53 465.29L116.79 463.84L117.07 462.40L117.35 460.97L117.65 459.54L117.96 458.11L118.28 456.69L118.61 455.27L118.95 453.86L119.30 452.45L119.66 451.04L120.03 449.64L120.42 448.24L120.81 446.85L121.21 445.46L121.63 444.08L122.05 442.70L122.49 441.32L122.93 439.95L123.39 438.58L123.85 437.22L124.33 435.86L124.81 434.51L125.31 433.16L125.81 431.81L126.32 430.47L126.85 429.13L127.38 427.80L127.92 426.47L128.47 425.15L129.04 423.83L129.61 422.51L130.19 421.20L130.78 419.89L131.37 418.59L131.98 417.29L132.60 416.00L133.22 414.71L133.86 413.43L134.50 412.15L135.15 410.87L135.81 409.60L136.48 408.33L137.16 407.07L137.84 405.82L138.54 404.56L139.24 403.31L139.95 402.07L140.67 400.83L141.40 399.60L142.13 398.37L142.88 397.14L143.63 395.92L144.39 394.70L145.16 393.49L145.93 392.28L146.71 391.08L147.50 389.88L148.30 388.69L149.11 387.50L149.92 386.31L150.74 385.14L151.57 383.96L152.40 382.79L153.25 381.62L154.10 380.46L154.95 379.31L155.82 378.15L156.69 377.01L157.56 375.87L158.45 374.73L159.34 373.59L160.24 372.47L161.14 371.34L162.05 370.22L162.97 369.11L163.89 368.00L164.82 366.90L165.76 365.80L166.70 364.70L167.65 363.61L168.61 362.53L169.57 361.45L170.53 360.37L171.51 359.30L172.49 358.24L173.47 357.17L174.46 356.12L175.46 355.07L176.46 354.02L177.47 352.98L178.48 351.94L179.50 350.91L180.52 349.88L181.55 348.86L182.59 347.85L183.63 346.83L184.67 345.83L185.72 344.82L186.77 343.83L187.83 342.84L188.90 341.85L189.97 340.87L191.04 339.89L192.12 338.92L193.20 337.95L194.29 336.99L195.38 336.03L196.48 335.08L197.58 334.13L198.68 333.19L199.79 332.25L200.91 331.32L202.03 330.39L203.15 329.47L204.27 328.55L205.40 327.64L206.54 326.74L207.67 325.84L208.81 324.94L209.96 324.05L211.11 323.16L212.26 322.28L213.41 321.41L214.57 320.54L215.73 319.67L216.90 318.81L218.07 317.96L219.24 317.11L220.41 316.26L221.59 315.42L222.77 314.59L223.95 313.76L225.14 312.94L226.33 312.12L227.52 311.31L228.71 310.50L229.91 309.70L231.11 308.90L232.31 308.11L233.52 307.32L234.72 306.54L235.93 305.76L237.14 304.99L238.36 304.23L239.57 303.47L240.79 302.71L242.01 301.96L243.23 301.22L244.45 300.48L245.67 299.75L246.90 299.02L248.13 298.30L249.36 297.58L250.59 296.87L251.82 296.17L253.05 295.46L254.29 294.77L255.53 294.08L256.76 293.40L258.01 292.73L259.25 292.07L260.50 291.42L261.76 290.78L263.03 290.17L264.30 289.56L265.58 288.98L266.87 288.42L268.17 287.88L269.48 287.36L270.81 286.86L272.14 286.39L273.48 285.94L274.83 285.51L276.20 285.11L277.57 284.73L278.95 284.37L280.34 284.03L281.74 283.72L283.16 283.43L284.57 283.16L286.00 282.91L287.43 282.68L288.87 282.47L290.32 282.29L291.77 282.12L293.22 281.97L294.68 281.84L296.14 281.72L297.60 281.63L299.06 281.55L300.53 281.48L301.99 281.44L303.45 281.40L304.92 281.38L306.38 281.38L307.84 281.39L309.29 281.41L310.74 281.45L312.20 281.50L313.64 281.56L315.09 281.63L316.54 281.71L317.98 281.80L319.42 281.90L320.86 282.01L322.30 282.13L323.73 282.26L325.17 282.40L326.60 282.54L328.04 282.70L329.47 282.85L330.90 283.02L332.33 283.19L333.76 283.36L335.18 283.54L336.61 283.73L338.04 283.92L339.46 284.11L340.89 284.30L342.32 284.50L343.74 284.70L345.17 284.90L346.59 285.10L348.02 285.30L349.44 285.51L350.87 285.71L352.29 285.91L353.72 286.12L355.14 286.32L356.57 286.52L358.00 286.73L359.42 286.93L360.85 287.13L362.28 287.34L363.70 287.54L365.13 287.74L366.56 287.94L367.98 288.14L369.41 288.34L370.84 288.54L372.27 288.74L373.70 288.94L375.12 289.13L376.55 289.32L377.98 289.52L379.41 289.71L380.84 289.90L382.27 290.08L383.70 290.27L385.13 290.45L386.56 290.63L387.99 290.81L389.42 290.99L390.85 291.16L392.28 291.34L393.71 291.51L395.15 291.67L396.58 291.84L398.01 292.00L399.44 292.16L400.88 292.31L402.31 292.46L403.74 292.61L405.18 292.76L406.61 292.90L408.05 293.04L409.48 293.17L410.92 293.31L412.35 293.43L413.79 293.56L415.23 293.68L416.66 293.79L418.10 293.90L419.54 294.01L420.98 294.11L422.41 294.21L423.85 294.30L425.29 294.39L426.73 294.47L428.17 294.55L429.61 294.63L431.05 294.69L432.50 294.76L433.94 294.81L435.38 294.87L436.82 294.91L438.27 294.95L439.71 294.99L441.16 295.02L442.60 295.04L444.05 295.06L445.49 295.07L446.94 295.08L448.38 295.08L449.80 295.00L450.46 296.07L451.69 296.40L452.92 296.73L454.14 297.06L455.36 297.40L456.58 297.75L457.79 298.11L459.00 298.47L460.21 298.83L461.41 299.21L462.61 299.58L463.81 299.97L465.00 300.36L466.19 300.76L467.37 301.16L468.55 301.57L469.73 301.98L470.91 302.40L472.08 302.83L473.25 303.26L474.42 303.69L475.58 304.14L476.74 304.58L477.89 305.04L479.05 305.50L480.20 305.96L481.34 306.43L482.49 306.91L483.63 307.39L484.76 307.87L485.90 308.36L487.03 308.86L488.16 309.36L489.28 309.87L490.40 310.38L491.52 310.90L492.64 311.42L493.75 311.95L494.86 312.48L495.97 313.02L497.07 313.56L498.18 314.11L499.28 314.66L500.37 315.21L501.46 315.78L502.55 316.34L503.64 316.91L504.73 317.49L505.81 318.07L506.89 318.65L507.97 319.24L509.04 319.83L510.11 320.43L511.18 321.03L512.25 321.64L513.31 322.25L514.37 322.87L515.43 323.48L516.49 324.11L517.54 324.74L518.59 325.37L519.64 326.00L520.69 326.64L521.73 327.29L522.77 327.94L523.81 328.59L524.85 329.24L525.88 329.90L526.92 330.57L527.95 331.23L528.97 331.91L530.00 332.58L531.02 333.26L532.04 333.94L533.06 334.63L534.08 335.32L535.09 336.01L536.10 336.71L537.11 337.41L538.12 338.11L539.13 338.82L540.13 339.53L541.13 340.24L542.13 340.96L543.13 341.67L544.12 342.40L545.12 343.12L546.11 343.85L547.10 344.58L548.09 345.32L549.07 346.06L550.06 346.80L551.04 347.54L552.02 348.28L553.00 349.03L553.98 349.78L554.96 350.53L555.94 351.29L556.91 352.04L557.88 352.80L558.86 353.56L559.83 354.32L560.80 355.09L561.77 355.85L562.74 356.62L563.70 357.39L564.67 358.16L565.64 358.93L566.60 359.70L567.56 360.48L568.53 361.25L569.49 362.03L570.45 362.80L571.41 363.58L572.37 364.36L573.34 365.14L574.30 365.92L575.26 366.70L576.21 367.49L577.17 368.27L578.13 369.05L579.09 369.83L580.05 370.62L581.01 371.40L581.97 372.19L582.93 372.97L583.89 373.75L584.85 374.54L585.81 375.32L586.77 376.10L587.73 376.88L588.69 377.67L589.65 378.45L590.61 379.23L591.57 380.01L592.53 380.79L593.50 381.57L594.46 382.34L595.42 383.12L596.39 383.90L597.35 384.67L598.32 385.44L599.29 386.22L600.26 386.99L601.23 387.76L602.20 388.52L603.17 389.29L604.14 390.05L605.12 390.82L606.09 391.58L607.07 392.34L608.05 393.09L609.03 393.85L610.01 394.60L610.99 395.35L611.98 396.10L612.96 396.84L613.95 397.59L614.94 398.33L615.93 399.07L616.92 399.80L617.92 400.53L618.91 401.26L619.91 401.99L620.91 402.71L621.92 403.43L622.92 404.15L623.93 404.86L624.94 405.58L625.95 406.28L626.96 406.99L627.98 407.69L628.99 408.39L630.01 409.08L631.04 409.77L632.06 410.46L633.09 411.14L634.12 411.82L635.15 412.49L636.18 413.17L637.22 413.83L638.25 414.50L639.29 415.16L640.34 415.82L641.38 416.47L642.43 417.12L643.48 417.76L644.53 418.40L645.58 419.04L646.63 419.67L647.69 420.30L648.75 420.92L649.81 421.54L650.88 422.16L651.94 422.77L653.01 423.38L654.08 423.98L655.16 424.58L656.23 425.17L657.31 425.76L658.39 426.34L659.47 426.92L660.55 427.50L661.64 428.07L662.73 428.63L663.82 429.19L664.91 429.75L666.01 430.30L667.10 430.84L668.20 431.38L669.30 431.92L670.41 432.45L671.51 432.98L672.62 433.50L673.73 434.01L674.84 434.52L675.96 435.03L677.08 435.53L678.19 436.02L679.32 436.51L680.44 437.00L681.56 437.48L682.69 437.95L683.82 438.42L684.96 438.88L686.09 439.33L687.23 439.79L688.37 440.23L689.51 440.67L690.65 441.10L691.80 441.53L692.94 441.95L694.09 442.37L695.25 442.78L696.40 443.18L697.56 443.58L698.72 443.97L699.88 444.36L701.04 444.74L702.21 445.11L703.37 445.48L704.54 445.84L705.72 446.20L706.89 446.55L708.07 446.89L709.25 447.23L710.43 447.56L711.61 447.88L712.80 448.20L713.98 448.51L715.17 448.81L716.37 449.11L717.56 449.40L718.76 449.68L719.96 449.96L721.16 450.23L722.36 450.49L723.56 450.75L724.77 450.99L725.98 451.24L727.19 451.47L728.41 451.70L729.63 451.92L730.84 452.14L732.07 452.34L733.29 452.54L734.51 452.73L735.74 452.92L736.97 453.10L738.20 453.27L739.44 453.43L740.67 453.59L741.91 453.73L743.15 453.88L744.40 454.01L745.64 454.13L746.89 454.25L748.14 454.36L749.39 454.46L750.65 454.56L751.90 454.65L753.16 454.73L754.42 454.80L755.69 454.86L756.95 454.91L758.22 454.96L759.49 455.00L760.76 455.03L762.04 455.06L763.31 455.07L764.59 455.08L765.87 455.07L767.16 455.06L768.44 455.05L769.73 455.02L771.02 454.98L772.31 454.94L773.61 454.89L774.90 454.83" stroke="#000" stroke-width="3.1"/>
</g>
<g stroke="#000" fill="none">
<rect x="85.0" y="35.7" width="702.0" height="434.15000000000003" stroke-width="2"/>
<path d="M99.29 469.85v-6.8M99.29 35.7v6.8M158.59 469.85v-6.8M158.59 35.7v6.8M200.67 469.85v-6.8M200.67 35.7v6.8M233.31 469.85v-6.8M233.31 35.7v6.8M259.98 469.85v-6.8M259.98 35.7v6.8M282.53 469.85v-6.8M282.53 35.7v6.8M302.06 469.85v-6.8M302.06 35.7v6.8M319.29 469.85v-6.8M319.29 35.7v6.8M436.09 469.85v-6.8M436.09 35.7v6.8M495.39 469.85v-6.8M495.39 35.7v6.8M537.47 469.85v-6.8M537.47 35.7v6.8M570.11 469.85v-6.8M570.11 35.7v6.8M596.78 469.85v-6.8M596.78 35.7v6.8M619.33 469.85v-6.8M619.33 35.7v6.8M638.86 469.85v-6.8M638.86 35.7v6.8M656.09 469.85v-6.8M656.09 35.7v6.8M772.89 469.85v-6.8M772.89 35.7v6.8M334.70 469.85v-11.8M334.70 35.7v11.8M671.50 469.85v-11.8M671.50 35.7v11.8M85.0 469.86h11.8M787.0 469.86h-11.8M85.0 437.19h6.8M787.0 437.19h-6.8M85.0 418.07h6.8M787.0 418.07h-6.8M85.0 404.51h6.8M787.0 404.51h-6.8M85.0 393.99h6.8M787.0 393.99h-6.8M85.0 385.40h6.8M787.0 385.40h-6.8M85.0 378.13h6.8M787.0 378.13h-6.8M85.0 371.84h6.8M787.0 371.84h-6.8M85.0 366.29h6.8M787.0 366.29h-6.8M85.0 361.32h11.8M787.0 361.32h-11.8M85.0 328.65h6.8M787.0 328.65h-6.8M85.0 309.53h6.8M787.0 309.53h-6.8M85.0 295.97h6.8M787.0 295.97h-6.8M85.0 285.45h6.8M787.0 285.45h-6.8M85.0 276.86h6.8M787.0 276.86h-6.8M85.0 269.59h6.8M787.0 269.59h-6.8M85.0 263.30h6.8M787.0 263.30h-6.8M85.0 257.75h6.8M787.0 257.75h-6.8M85.0 252.78h11.8M787.0 252.78h-11.8M85.0 220.11h6.8M787.0 220.11h-6.8M85.0 200.99h6.8M787.0 200.99h-6.8M85.0 187.43h6.8M787.0 187.43h-6.8M85.0 176.91h6.8M787.0 176.91h-6.8M85.0 168.32h6.8M787.0 168.32h-6.8M85.0 161.05h6.8M787.0 161.05h-6.8M85.0 154.76h6.8M787.0 154.76h-6.8M85.0 149.21h6.8M787.0 149.21h-6.8M85.0 144.24h11.8M787.0 144.24h-11.8M85.0 111.57h6.8M787.0 111.57h-6.8M85.0 92.45h6.8M787.0 92.45h-6.8M85.0 78.89h6.8M787.0 78.89h-6.8M85.0 68.37h6.8M787.0 68.37h-6.8M85.0 59.78h6.8M787.0 59.78h-6.8M85.0 52.51h6.8M787.0 52.51h-6.8M85.0 46.22h6.8M787.0 46.22h-6.8M85.0 40.67h6.8M787.0 40.67h-6.8M85.0 35.70h11.8M787.0 35.70h-11.8" stroke-width="1.9"/>
</g>
<text x="37.59" y="478.66" font-size="24.6">10</text>
<text x="62.09" y="469.16" font-size="17.9">−</text>
<text x="72.90" y="469.16" font-size="17.9">9</text>
<text x="37.59" y="370.12" font-size="24.6">10</text>
<text x="62.09" y="360.62" font-size="17.9">−</text>
<text x="72.83" y="360.62" font-size="17.9">8</text>
<text x="37.59" y="261.58" font-size="24.6">10</text>
<text x="62.09" y="252.08" font-size="17.9">−</text>
<text x="72.49" y="252.08" font-size="17.9">7</text>
<text x="37.59" y="153.04" font-size="24.6">10</text>
<text x="62.09" y="143.54" font-size="17.9">−</text>
<text x="72.71" y="143.54" font-size="17.9">6</text>
<text x="37.59" y="44.50" font-size="24.6">10</text>
<text x="62.09" y="35.00" font-size="17.9">−</text>
<text x="72.65" y="35.00" font-size="17.9">5</text>
<text x="83.59" y="496.60" font-size="25.3">0.2</text>
<text x="327.92" y="496.60" font-size="25.3">1</text>
<text x="659.22" y="496.60" font-size="25.3">10</text>
<text x="760.06" y="496.60" font-size="25.3">20</text>
<text x="470.46" y="497.30" font-size="24.6" font-style="italic">z</text>
<text x="479.56" y="500.20" font-size="17.0" font-style="italic">c</text>
<text x="392.26" y="533.70" font-size="24.6" font-style="italic">z</text>
<text transform="translate(407.50 535.50) scale(1.13 1)" font-size="24.6">=</text>
<text x="429.44" y="533.50" font-size="24.6" font-style="italic">m</text>
<text x="448.35" y="535.00" font-size="10.2" font-style="italic">N</text>
<text x="456.73" y="536.90" font-size="30">/</text>
<text x="464.53" y="533.50" font-size="24.6" font-style="italic">T</text>
<g transform="translate(23.8 276.4) rotate(-90)">
<text x="0.01" y="0.00" font-size="24.6">±</text>
<text x="13.63" y="0.00" font-size="24.6" font-style="italic">δ</text>
<text x="25.97" y="0.00" font-size="24.6" font-style="italic">η</text>
<text x="39.45" y="-10.10" font-size="17.4" font-style="italic">L</text>
</g>
<text transform="translate(174.31 74.70) scale(1.05 1)" font-size="19.5" font-style="italic">m</text>
<text x="189.53" y="77.50" font-size="10.8" font-style="italic">N</text>
<text transform="translate(203.10 76.30) scale(1.09 1)" font-size="19.5">=</text>
<text x="220.57" y="74.70" font-size="19.5">400 GeV</text>
<text x="177.49" y="150.90" font-size="15.3">+</text>
<text x="186.80" y="150.00" font-size="15.3" font-style="italic">δ</text>
<text x="194.90" y="150.00" font-size="15.3" font-style="italic">η</text>
<text x="203.38" y="143.70" font-size="10.7" font-style="italic">L</text>
<text x="718.55" y="345.30" font-size="15.3">−</text>
<text x="727.86" y="344.40" font-size="15.3" font-style="italic">δ</text>
<text x="735.96" y="344.40" font-size="15.3" font-style="italic">η</text>
<text x="744.44" y="337.20" font-size="10.7" font-style="italic">L</text>
<text x="743.91" y="348.00" font-size="10.5">obs</text>
<text x="706.59" y="432.75" font-size="15.3">−</text>
<text x="715.90" y="431.85" font-size="15.3" font-style="italic">δ</text>
<text x="724.00" y="431.85" font-size="15.3" font-style="italic">η</text>
<text x="732.48" y="425.55" font-size="10.7" font-style="italic">L</text>
<path d="M540.2 63.4H583.8" stroke="#FFD778" stroke-width="2.8" fill="none"/>
<text x="590.79" y="64.30" font-size="15.9">total,</text>
<text x="627.03" y="64.30" font-size="15.4" font-weight="bold" font-style="italic">η</text>
<text x="636.05" y="58.55" font-size="10.5" font-weight="bold" font-style="italic">N</text>
<text x="635.42" y="68.35" font-size="10.5" font-weight="bold">in</text>
<text transform="translate(644.44 65.20) scale(1.15 1)" font-size="15.9" font-weight="bold">=</text>
<text x="655.14" y="64.30" font-size="15.9" font-weight="bold">0</text>
<text x="663.34" y="64.30" font-size="15.9">,</text>
<text x="670.91" y="64.30" font-size="15.4" font-weight="bold" font-style="italic">δ</text>
<text x="678.83" y="64.30" font-size="15.4" font-weight="bold" font-style="italic">η</text>
<text x="688.33" y="58.55" font-size="10.5" font-weight="bold" font-style="italic">L</text>
<text x="687.12" y="68.35" font-size="10.5" font-weight="bold">in</text>
<text transform="translate(696.84 65.20) scale(1.15 1)" font-size="15.9" font-weight="bold">=</text>
<text x="707.01" y="64.30" font-size="15.9" font-weight="bold">I</text>
<path d="M540.2 94.9H583.8" stroke="#B2B2B2" stroke-width="3.0" fill="none"/>
<text x="590.79" y="95.80" font-size="15.9">total,</text>
<text x="627.03" y="95.80" font-size="15.4" font-weight="bold" font-style="italic">η</text>
<text x="636.05" y="90.05" font-size="10.5" font-weight="bold" font-style="italic">N</text>
<text x="635.42" y="99.85" font-size="10.5" font-weight="bold">in</text>
<text transform="translate(644.44 96.70) scale(1.15 1)" font-size="15.9" font-weight="bold">=</text>
<text x="655.14" y="95.80" font-size="15.9" font-weight="bold">0</text>
<text x="663.34" y="95.80" font-size="15.9">,</text>
<text x="670.91" y="95.80" font-size="15.4" font-weight="bold" font-style="italic">δ</text>
<text x="678.83" y="95.80" font-size="15.4" font-weight="bold" font-style="italic">η</text>
<text x="688.33" y="90.05" font-size="10.5" font-weight="bold" font-style="italic">L</text>
<text x="687.12" y="99.85" font-size="10.5" font-weight="bold">in</text>
<text transform="translate(696.84 96.70) scale(1.15 1)" font-size="15.9" font-weight="bold">=</text>
<text x="706.94" y="95.80" font-size="15.9" font-weight="bold">0</text>
<path d="M540.2 126.4H583.8" stroke="#000" stroke-width="3.1" fill="none"/>
<text x="590.79" y="127.30" font-size="15.9">total,</text>
<text x="627.03" y="127.30" font-size="15.4" font-weight="bold" font-style="italic">η</text>
<text x="636.05" y="121.55" font-size="10.5" font-weight="bold" font-style="italic">N</text>
<text x="635.42" y="131.35" font-size="10.5" font-weight="bold">in</text>
<text transform="translate(644.44 128.20) scale(1.15 1)" font-size="15.9" font-weight="bold">=</text>
<text x="655.63" y="127.30" font-size="15.4" font-weight="bold" font-style="italic">η</text>
<text x="664.65" y="121.55" font-size="10.5" font-weight="bold" font-style="italic">N</text>
<text x="663.89" y="131.35" font-size="10.5" font-weight="bold">eq</text>
<text x="675.54" y="127.30" font-size="15.9">,</text>
<text x="683.51" y="127.30" font-size="15.4" font-weight="bold" font-style="italic">δ</text>
<text x="691.43" y="127.30" font-size="15.4" font-weight="bold" font-style="italic">η</text>
<text x="700.93" y="121.55" font-size="10.5" font-weight="bold" font-style="italic">L</text>
<text x="699.72" y="131.35" font-size="10.5" font-weight="bold">in</text>
<text transform="translate(709.44 128.20) scale(1.15 1)" font-size="15.9" font-weight="bold">=</text>
<text x="719.54" y="127.30" font-size="15.9" font-weight="bold">0</text>
<path d="M540.2 157.9H583.8" stroke="#F00" stroke-width="3.3" stroke-dasharray="17.6 7.4" fill="none"/>
<text x="590.49" y="158.80" font-size="15.9">N diag.,</text>
<text x="645.43" y="158.80" font-size="15.4" font-weight="bold" font-style="italic">η</text>
<text x="654.45" y="153.05" font-size="10.5" font-weight="bold" font-style="italic">N</text>
<text x="653.82" y="162.85" font-size="10.5" font-weight="bold">in</text>
<text transform="translate(662.84 159.70) scale(1.15 1)" font-size="15.9" font-weight="bold">=</text>
<text x="674.03" y="158.80" font-size="15.4" font-weight="bold" font-style="italic">η</text>
<text x="683.05" y="153.05" font-size="10.5" font-weight="bold" font-style="italic">N</text>
<text x="682.29" y="162.85" font-size="10.5" font-weight="bold">eq</text>
<text x="693.94" y="158.80" font-size="15.9">,</text>
<text x="701.91" y="158.80" font-size="15.4" font-weight="bold" font-style="italic">δ</text>
<text x="709.83" y="158.80" font-size="15.4" font-weight="bold" font-style="italic">η</text>
<text x="719.33" y="153.05" font-size="10.5" font-weight="bold" font-style="italic">L</text>
<text x="718.12" y="162.85" font-size="10.5" font-weight="bold">in</text>
<text transform="translate(727.84 159.70) scale(1.15 1)" font-size="15.9" font-weight="bold">=</text>
<text x="737.94" y="158.80" font-size="15.9" font-weight="bold">0</text>
<path d="M540.2 189.4H583.8" stroke="#F00" stroke-width="1.6" fill="none"/>
<text x="590.49" y="190.30" font-size="15.9">N diag., analytic</text>
<path d="M540.2 220.9H583.8" stroke="#0F0" stroke-width="3.3" stroke-dasharray="12.6 7.35 3.4 7.35" fill="none"/>
<text x="590.49" y="221.80" font-size="15.9">L diag.,</text>
<text x="643.83" y="221.80" font-size="15.4" font-weight="bold" font-style="italic">η</text>
<text x="652.85" y="216.05" font-size="10.5" font-weight="bold" font-style="italic">N</text>
<text x="652.22" y="225.85" font-size="10.5" font-weight="bold">in</text>
<text transform="translate(661.24 222.70) scale(1.15 1)" font-size="15.9" font-weight="bold">=</text>
<text x="672.43" y="221.80" font-size="15.4" font-weight="bold" font-style="italic">η</text>
<text x="681.45" y="216.05" font-size="10.5" font-weight="bold" font-style="italic">N</text>
<text x="680.69" y="225.85" font-size="10.5" font-weight="bold">eq</text>
<text x="692.34" y="221.80" font-size="15.9">,</text>
<text x="700.31" y="221.80" font-size="15.4" font-weight="bold" font-style="italic">δ</text>
<text x="708.23" y="221.80" font-size="15.4" font-weight="bold" font-style="italic">η</text>
<text x="717.73" y="216.05" font-size="10.5" font-weight="bold" font-style="italic">L</text>
<text x="716.52" y="225.85" font-size="10.5" font-weight="bold">in</text>
<text transform="translate(726.24 222.70) scale(1.15 1)" font-size="15.9" font-weight="bold">=</text>
<text x="736.34" y="221.80" font-size="15.9" font-weight="bold">0</text>
<path d="M540.2 252.4H583.8" stroke="#00F" stroke-width="3.3" stroke-dasharray="3.7 7.3" fill="none"/>
<text x="590.49" y="253.30" font-size="15.9">N, L diag.,</text>
<text x="663.13" y="253.30" font-size="15.4" font-weight="bold" font-style="italic">η</text>
<text x="672.15" y="247.55" font-size="10.5" font-weight="bold" font-style="italic">N</text>
<text x="671.52" y="257.35" font-size="10.5" font-weight="bold">in</text>
<text transform="translate(680.54 254.20) scale(1.15 1)" font-size="15.9" font-weight="bold">=</text>
<text x="691.73" y="253.30" font-size="15.4" font-weight="bold" font-style="italic">η</text>
<text x="700.75" y="247.55" font-size="10.5" font-weight="bold" font-style="italic">N</text>
<text x="699.99" y="257.35" font-size="10.5" font-weight="bold">eq</text>
<text x="711.64" y="253.30" font-size="15.9">,</text>
<text x="719.61" y="253.30" font-size="15.4" font-weight="bold" font-style="italic">δ</text>
<text x="727.53" y="253.30" font-size="15.4" font-weight="bold" font-style="italic">η</text>
<text x="737.03" y="247.55" font-size="10.5" font-weight="bold" font-style="italic">L</text>
<text x="735.82" y="257.35" font-size="10.5" font-weight="bold">in</text>
<text transform="translate(745.54 254.20) scale(1.15 1)" font-size="15.9" font-weight="bold">=</text>
<text x="755.64" y="253.30" font-size="15.9" font-weight="bold">0</text>
</svg>
</body></html>
